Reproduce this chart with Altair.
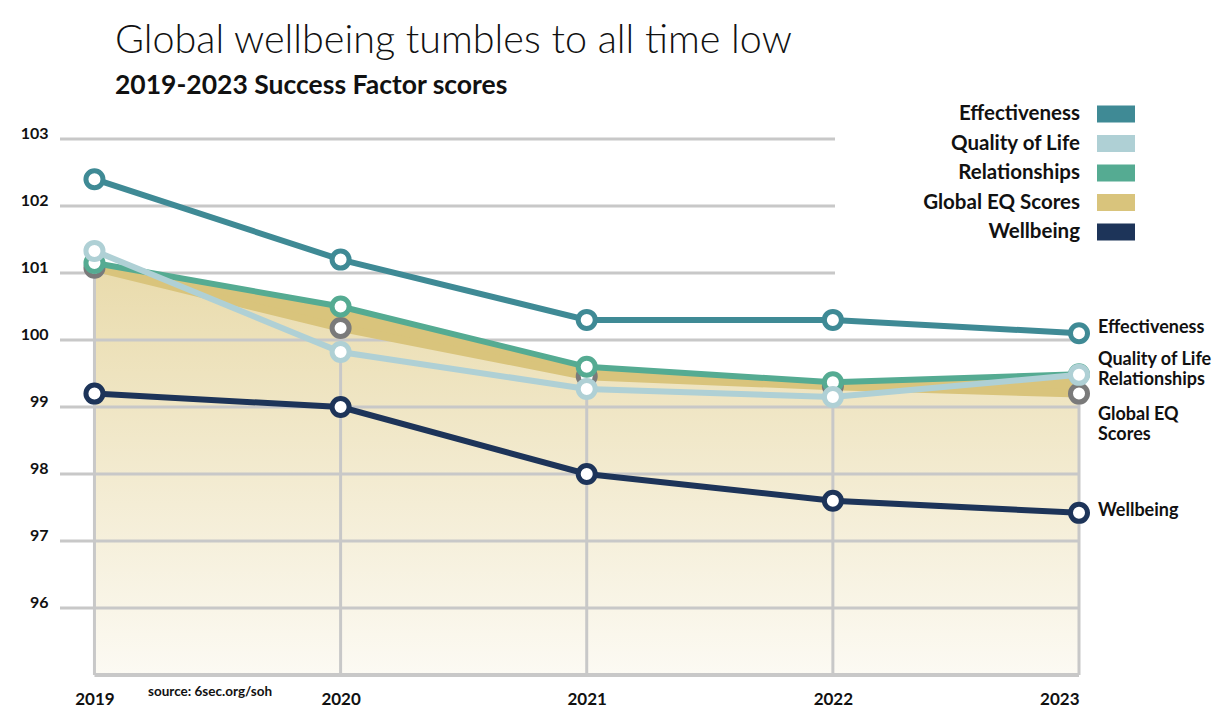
import altair as alt
import pandas as pd

years = [2019, 2020, 2021, 2022, 2023]
series_names = ["Effectiveness", "Quality of Life", "Relationships", "Global EQ Scores", "Wellbeing"]
effectiveness = [102.4, 101.2, 100.3, 100.3, 100.1]
quality_of_life = [101.33, 99.82, 99.27, 99.15, 99.48]
relationships = [101.15, 100.5, 99.6, 99.37, 99.49]
global_eq = [101.08, 100.18, 99.46, 99.31, 99.2]
wellbeing = [99.2, 99.0, 98.0, 97.6, 97.42]
y_ticks = [96, 97, 98, 99, 100, 101, 102, 103]
end_labels = ["Effectiveness", "Quality of Life", "Relationships", "Global EQ\nScores", "Wellbeing"]
title_text = "Global wellbeing tumbles to all time low"
subtitle_text = "2019-2023 Success Factor scores"
source_text = "source: 6sec.org/soh"

series_colors = ["#3f8a95", "#afd0d5", "#55ab92", "#d9c47c", "#1d3459"]
FONT = "Lato"
INK = "#111111"
GRID = "#c8c8c8"
Y_MIN = 95

rows = []
for name, lab, vals in zip(series_names, end_labels,
                           [effectiveness, quality_of_life, relationships, global_eq, wellbeing]):
    for yr, v in zip(years, vals):
        rows.append({"series": name, "label": lab, "year": yr, "value": v})
long_df = pd.DataFrame(rows)
wide_df = pd.DataFrame({"year": years, "eq": global_eq, "rel": relationships})
grid_df = pd.DataFrame({"v": y_ticks})

xscale = alt.Scale(domain=[2018.86, 2023], nice=False, zero=False)
yscale = alt.Scale(domain=[Y_MIN, 103], nice=False, zero=False)
x_axis = alt.Axis(values=years, format="d", grid=False, domain=False, ticks=False,
                  labelPadding=16, labelFontSize=17, labelFont=FONT, labelFontWeight=700,
                  labelColor=INK, title=None)
y_axis = alt.Axis(values=y_ticks, format="d", grid=False, domain=False, ticks=False,
                  labelPadding=12, labelFontSize=16, labelFont=FONT, labelFontWeight=700,
                  labelColor=INK, labelOffset=-6, title=None)
X = alt.X("year:Q", scale=xscale, axis=x_axis)

base = alt.Chart(long_df)
wide = alt.Chart(wide_df).transform_calculate(floor=str(Y_MIN))

area = wide.mark_area(
    color=alt.Gradient(gradient="linear", x1=1, x2=1, y1=0, y2=1,
                       stops=[alt.GradientStop(color="#e9dbac", offset=0),
                              alt.GradientStop(color="#fcfaf3", offset=1)])
).encode(x=X, y=alt.Y("eq:Q", scale=yscale, axis=y_axis), y2="floor:Q")

grid_low = alt.Chart(grid_df).transform_filter("datum.v <= 100").mark_rule(
    color=GRID, strokeWidth=3).encode(y=alt.Y("v:Q", scale=yscale), x=alt.value(0), x2=alt.value(1019))
grid_high = alt.Chart(grid_df).transform_filter("datum.v > 100").mark_rule(
    color=GRID, strokeWidth=3).encode(y=alt.Y("v:Q", scale=yscale), x=alt.value(0), x2=alt.value(775))

vrules = wide.mark_rule(color=GRID, strokeWidth=3).encode(
    x=X, y=alt.Y("eq:Q", scale=yscale), y2="floor:Q")
baseline = wide.mark_rule(color=GRID, strokeWidth=4).encode(
    x=alt.X("min(year):Q", scale=xscale), x2="max(year):Q",
    y=alt.Y("min(floor):Q", scale=yscale))

band = wide.mark_area(color="#d9c47c").encode(x=X, y=alt.Y("eq:Q", scale=yscale), y2="rel:Q")
band_edge = wide.mark_line(color="#d9c47c", strokeWidth=8).encode(x=X, y=alt.Y("eq:Q", scale=yscale))

stroke_scale = alt.Scale(domain=series_names, range=series_colors)
line_order = ["Wellbeing", "Relationships", "Quality of Life", "Effectiveness"]

layers = [area, grid_low, grid_high, vrules, baseline, band, band_edge]

eq_points = base.transform_filter(alt.datum.series == "Global EQ Scores").mark_point(
    shape="circle", size=290, strokeWidth=5, fill="white", fillOpacity=1, opacity=1, stroke="#7a7a7a"
).encode(x=X, y=alt.Y("value:Q", scale=yscale))
layers.append(eq_points)

for s in line_order:
    sub = base.transform_filter(alt.datum.series == s)
    layers.append(sub.mark_line(strokeWidth=6).encode(
        x=X, y=alt.Y("value:Q", scale=yscale),
        stroke=alt.Stroke("series:N", scale=stroke_scale, legend=None)))
    layers.append(sub.mark_point(shape="circle", size=290, strokeWidth=5, fill="white",
                                 fillOpacity=1, opacity=1).encode(
        x=X, y=alt.Y("value:Q", scale=yscale),
        stroke=alt.Stroke("series:N", scale=stroke_scale, legend=None)))

label_dy = {"Effectiveness": -5, "Quality of Life": -15, "Relationships": 6,
            "Global EQ Scores": 12, "Wellbeing": -2}
for s in series_names:
    sub = base.transform_filter((alt.datum.series == s) & (alt.datum.year == 2023))
    layers.append(sub.mark_text(align="left", baseline="top" if s == "Global EQ Scores" else "middle",
                                dx=19, dy=label_dy[s], font=FONT, fontSize=18, fontWeight=700,
                                color=INK, lineBreak="\n", lineHeight=20).encode(
        x=X, y=alt.Y("value:Q", scale=yscale), text="label:N"))

# legend (labels to the left of colour swatches, top right)
legend_df = pd.DataFrame({"name": series_names, "color": series_colors})
legend_top = -25
legend_step = 29.5
for i, (name, col) in enumerate(zip(series_names, series_colors)):
    cy = legend_top + i * legend_step
    entry = alt.Chart(legend_df).transform_filter(alt.datum.name == name)
    layers.append(entry.mark_rect(color=col).encode(
        x=alt.value(1037), x2=alt.value(1075), y=alt.value(cy - 8.5), y2=alt.value(cy + 8.5)))
    layers.append(entry.mark_text(align="right", baseline="middle", font=FONT, fontSize=20.5,
                                  fontWeight=700, color=INK).encode(
        x=alt.value(1020), y=alt.value(cy), text="name:N"))

text_df = pd.DataFrame({"t": [title_text], "s": [subtitle_text], "src": [source_text]})
text_base = alt.Chart(text_df)
layers.append(text_base.mark_text(align="left", baseline="alphabetic", font=FONT, fontSize=39.5,
                                  fontWeight=300, color=INK).encode(
    x=alt.value(55), y=alt.value(-86), text="t:N"))
layers.append(text_base.mark_text(align="left", baseline="alphabetic", font=FONT, fontSize=26.5,
                                  fontWeight=700, color=INK).encode(
    x=alt.value(55), y=alt.value(-45), text="s:N"))
layers.append(text_base.mark_text(align="left", baseline="middle", font=FONT, fontSize=13.5,
                                  fontWeight=700, color=INK).encode(
    x=alt.value(88), y=alt.value(553), text="src:N"))

chart = alt.layer(*layers).properties(
    width=1019, height=536,
    autosize=alt.AutoSizeParams(type="none"),
    padding={"left": 52, "top": 131, "right": 140, "bottom": 34},
    background="white",
).configure_view(stroke=None)

chart.save("out.html", embed_options={"renderer": "svg", "actions": False})
